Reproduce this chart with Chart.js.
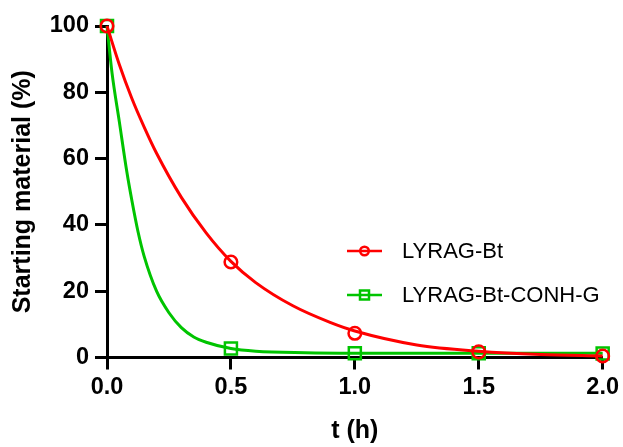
<!DOCTYPE html>
<html>
<head>
<meta charset="utf-8">
<script src="https://cdn.jsdelivr.net/npm/chart.js@4/dist/chart.umd.min.js"></script>
<style>
  html, body { margin: 0; padding: 0; background: #fff; }
  #wrap { width: 623px; height: 447px; }
</style>
</head>
<body>
<div id="wrap"><canvas id="c" width="623" height="447"></canvas></div>
<script>
// Sampling times (h) and measured remaining starting material (%)
const sampleTimes = [0, 0.5, 1.0, 1.5, 2.0];
const lyragBt = [100, 28.8, 7.3, 1.7, 0.45];
const lyragBtConhG = [100, 2.7, 1.3, 1.25, 1.2];

// Fitted decay curves, read at selected times
const fitTimesBt = [0, 0.05, 0.1, 0.15, 0.2, 0.3, 0.4, 0.5, 0.6, 0.75, 0.9, 1.0, 1.25, 1.5, 1.75, 2.0];
const fitBt = [100, 88.3, 78.2, 69.5, 61.6, 48.3, 37.6, 29.0, 22.6, 15.6, 10.6, 8.0, 3.8, 1.9, 0.9, 0.45];
const fitTimesConhG = [0, 0.02, 0.05, 0.08, 0.1, 0.125, 0.15, 0.2, 0.25, 0.3, 0.35, 0.4, 0.5, 0.6, 0.8, 1.0, 1.5, 2.0];
const fitConhG = [100, 86, 71, 56, 47.5, 38, 30.5, 20, 13.5, 9, 6.2, 4.6, 2.7, 1.9, 1.45, 1.3, 1.25, 1.25];

// Axis ticks
const xTickValues = [0, 0.5, 1.0, 1.5, 2.0];
const xTickLabels = ['0.0', '0.5', '1.0', '1.5', '2.0'];
const yTickValues = [0, 20, 40, 60, 80, 100];
const yTickLabels = ['0', '20', '40', '60', '80', '100'];

const seriesNames = ['LYRAG-Bt', 'LYRAG-Bt-CONH-G'];
const RED = '#ff0000';
const GREEN = '#00c400';
const FONT = "'Liberation Sans', Arial, sans-serif";

const pts = (xs, ys) => xs.map((x, i) => ({ x: x, y: ys[i] }));

// Legend drawn inside the plot area: short line with the marker in its middle
const insetLegend = {
  id: 'insetLegend',
  afterDraw(chart) {
    const { ctx, chartArea } = chart;
    const entries = [
      { label: seriesNames[0], color: RED, style: 'circle' },
      { label: seriesNames[1], color: GREEN, style: 'rect' }
    ];
    const x0 = chartArea.left + 240;
    const lineLen = 35;
    const ys = [chartArea.top + 225, chartArea.top + 269];
    ctx.save();
    entries.forEach((e, i) => {
      const y = ys[i];
      ctx.strokeStyle = e.color;
      ctx.lineWidth = 2.5;
      ctx.beginPath();
      ctx.moveTo(x0, y);
      ctx.lineTo(x0 + lineLen, y);
      ctx.stroke();
      const cx = x0 + lineLen / 2;
      ctx.fillStyle = '#fff';
      ctx.beginPath();
      if (e.style === 'circle') {
        ctx.arc(cx, y, 4.3, 0, Math.PI * 2);
      } else {
        ctx.rect(cx - 4.5, y - 4.5, 9, 9);
      }
      ctx.fill();
      ctx.stroke();
      // line continues through the hollow marker
      ctx.beginPath();
      ctx.moveTo(cx - 4.5, y);
      ctx.lineTo(cx + 4.5, y);
      ctx.stroke();
      ctx.fillStyle = '#000';
      ctx.font = '22px ' + FONT;
      ctx.textBaseline = 'middle';
      ctx.textAlign = 'left';
      ctx.fillText(e.label, x0 + 55, y + 1);
    });
    ctx.restore();
  }
};

new Chart(document.getElementById('c'), {
  type: 'scatter',
  data: {
    datasets: [
      {
        label: seriesNames[0],
        data: pts(sampleTimes, lyragBt),
        showLine: false,
        pointStyle: 'circle',
        pointRadius: 6.3,
        pointBorderWidth: 2.5,
        pointBorderColor: RED,
        pointBackgroundColor: 'rgba(255,255,255,0)',
        clip: false
      },
      {
        label: seriesNames[0] + ' fit',
        data: pts(fitTimesBt, fitBt),
        showLine: true,
        borderColor: RED,
        borderWidth: 3,
        pointRadius: 0,
        cubicInterpolationMode: 'monotone',
        clip: false
      },
      {
        label: seriesNames[1],
        data: pts(sampleTimes, lyragBtConhG),
        showLine: false,
        pointStyle: 'rect',
        pointRadius: 8.5,
        pointBorderWidth: 2.5,
        pointBorderColor: GREEN,
        pointBackgroundColor: 'rgba(255,255,255,0)',
        clip: false
      },
      {
        label: seriesNames[1] + ' fit',
        data: pts(fitTimesConhG, fitConhG),
        showLine: true,
        borderColor: GREEN,
        borderWidth: 3,
        pointRadius: 0,
        cubicInterpolationMode: 'monotone',
        clip: false
      }
    ]
  },
  options: {
    responsive: false,
    animation: false,
    events: [],
    layout: { padding: { left: 0, top: 26, right: 18, bottom: 0 } },
    plugins: {
      legend: { display: false },
      tooltip: { enabled: false }
    },
    scales: {
      x: {
        type: 'linear',
        min: 0,
        max: 2,
        afterBuildTicks(scale) {
          scale.ticks = xTickValues.map(v => ({ value: v }));
        },
        afterFit(scale) { scale.height = 89.5; },
        ticks: {
          color: '#000',
          font: { family: FONT, size: 23.5, weight: 'bold' },
          padding: 4,
          maxRotation: 0,
          autoSkip: false,
          callback: (v) => xTickLabels[xTickValues.indexOf(v)]
        },
        grid: {
          drawOnChartArea: false,
          drawTicks: true,
          tickLength: 12,
          tickWidth: 3,
          tickColor: '#000'
        },
        border: { display: true, color: '#000', width: 3 },
        title: {
          display: true,
          text: 't (h)',
          color: '#000',
          font: { family: FONT, size: 25, weight: 'bold' },
          padding: { top: 0, bottom: 1 }
        }
      },
      y: {
        type: 'linear',
        min: 0,
        max: 100,
        afterBuildTicks(scale) {
          scale.ticks = yTickValues.map(v => ({ value: v }));
        },
        afterFit(scale) { scale.width = 107; },
        ticks: {
          color: '#000',
          font: { family: FONT, size: 23.5, weight: 'bold' },
          padding: 6,
          autoSkip: false,
          callback: (v) => yTickLabels[yTickValues.indexOf(v)]
        },
        grid: {
          drawOnChartArea: false,
          drawTicks: true,
          tickLength: 12,
          tickWidth: 3,
          tickColor: '#000'
        },
        border: { display: true, color: '#000', width: 3 },
        title: {
          display: true,
          text: 'Starting material (%)',
          color: '#000',
          font: { family: FONT, size: 25, weight: 'bold' },
          padding: { top: 8, bottom: 0 }
        }
      }
    }
  },
  plugins: [insetLegend]
});
</script>
</body>
</html>
